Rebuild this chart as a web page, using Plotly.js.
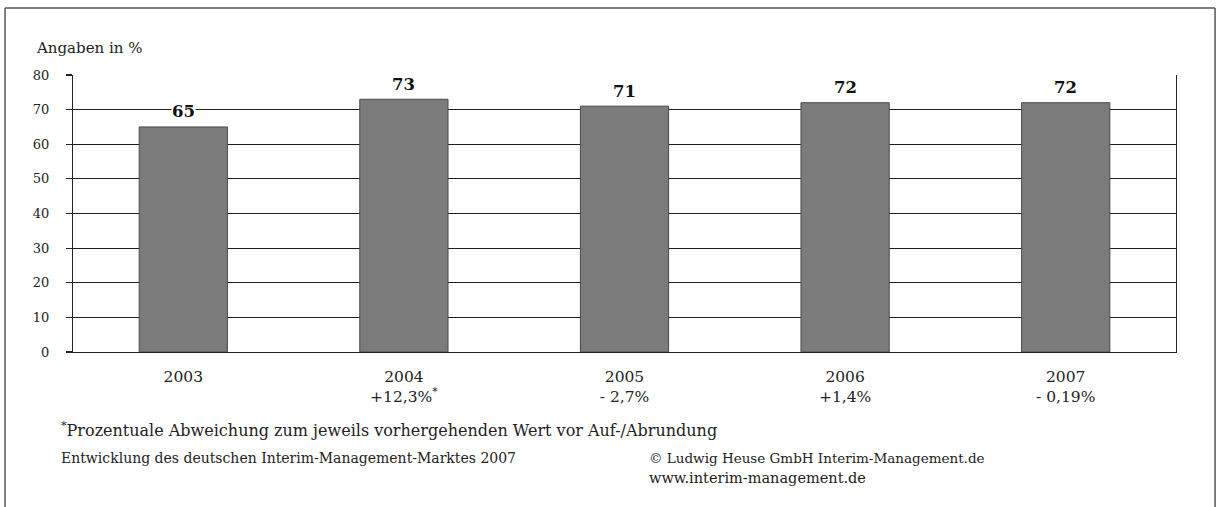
<!DOCTYPE html>
<html>
<head>
<meta charset="utf-8">
<script src="https://cdn.plot.ly/plotly-3.0.1.min.js"></script>
<style>
  html, body { margin: 0; padding: 0; background: #fff; }
  #chart { width: 1222px; height: 507px; }
</style>
</head>
<body>
<div id="chart"></div>
<script>
// Interim-Management market, share in percent per year
const years = ['2003', '2004', '2005', '2006', '2007'];
const values = [65, 73, 71, 72, 72];
// change against the previous year's unrounded value
const changes = ['', '+12,3%<sup>*</sup>', '- 2,7%', '+1,4%', '- 0,19%'];
const yTicks = [0, 10, 20, 30, 40, 50, 60, 70, 80];

const serif = 'DejaVu Serif, Liberation Serif, serif';
const ink = '#222';

// one slot per year on a linear axis
const slots = years.map((_, i) => i);
const tickText = years.map((y, i) => changes[i] ? y + '<br>' + changes[i] : y);

const trace = {
  type: 'bar',
  x: slots,
  y: values,
  width: 0.4,
  marker: { color: '#7b7b7b', line: { color: '#4a4a4a', width: 1 } },
  hoverinfo: 'skip'
};

// value labels above each bar, on a white patch that interrupts the grid
const valueLabels = slots.map(i => ({
  x: i, y: values[i], xref: 'x', yref: 'y',
  text: String(values[i]),
  showarrow: false,
  yanchor: 'middle', yshift: 15,
  bgcolor: '#fff', borderpad: 0,
  font: { family: serif, size: 16.5, color: '#111', weight: 'bold' }
}));

const textNotes = [
  { x: -0.0354, y: 1.0975, text: 'Angaben in %', size: 15 },
  { x: -0.0127, y: -0.2780, text: '<sup>*</sup>Prozentuale Abweichung zum jeweils vorhergehenden Wert vor Auf-/Abrundung', size: 16 },
  { x: -0.0127, y: -0.3827, text: 'Entwicklung des deutschen Interim-Management-Marktes 2007', size: 14 },
  { x: 0.5204, y: -0.3827, text: '© Ludwig Heuse GmbH Interim-Management.de', size: 13.5 },
  { x: 0.5204, y: -0.4549, text: 'www.interim-management.de', size: 14.5 }
].map(n => ({
  x: n.x, y: n.y, xref: 'paper', yref: 'paper',
  xanchor: 'left', yanchor: 'middle',
  text: n.text, showarrow: false,
  font: { family: serif, size: n.size, color: ink }
}));

// page frame: left, top and right edges
const frameColor = '#555';
const frame = [
  { type: 'line', xref: 'paper', yref: 'paper', x0: -0.0616, x1: -0.0616, y0: 1.2419, y1: -0.56, line: { color: frameColor, width: 1.5 } },
  { type: 'line', xref: 'paper', yref: 'paper', x0: -0.0616, x1: 1.0354, y0: 1.2419, y1: 1.2419, line: { color: frameColor, width: 1.5 } },
  { type: 'line', xref: 'paper', yref: 'paper', x0: 1.0354, x1: 1.0354, y0: 1.2419, y1: -0.56, line: { color: frameColor, width: 1.5 } }
];

const layout = {
  width: 1222,
  height: 507,
  margin: { l: 73, r: 46, t: 75, b: 155 },
  paper_bgcolor: '#fff',
  plot_bgcolor: '#fff',
  showlegend: false,
  font: { family: serif, color: ink },
  xaxis: {
    range: [-0.5, years.length - 0.5],
    tickmode: 'array',
    tickvals: slots,
    ticktext: tickText,
    // invisible ticks give the year labels their distance from the axis
    ticks: 'outside',
    ticklen: 10,
    tickcolor: 'rgba(0,0,0,0)',
    showgrid: false,
    zeroline: false,
    showline: true,
    linecolor: '#222',
    linewidth: 1.2,
    tickfont: { family: serif, size: 15.5, color: ink },
    fixedrange: true
  },
  yaxis: {
    range: [0, 80],
    tickmode: 'array',
    tickvals: yTicks,
    ticktext: yTicks.map(String),
    ticks: 'outside',
    ticklen: 6,
    tickcolor: '#222',
    tickwidth: 1.2,
    showgrid: true,
    gridcolor: '#1e1e1e',
    gridwidth: 1.2,
    zeroline: false,
    showline: true,
    mirror: true,
    linecolor: '#222',
    linewidth: 1.2,
    ticklabelstandoff: 14,
    tickfont: { family: serif, size: 13, color: ink },
    fixedrange: true
  },
  annotations: valueLabels.concat(textNotes),
  shapes: frame
};

Plotly.newPlot('chart', [trace], layout, { staticPlot: true, displayModeBar: false });
</script>
</body>
</html>
